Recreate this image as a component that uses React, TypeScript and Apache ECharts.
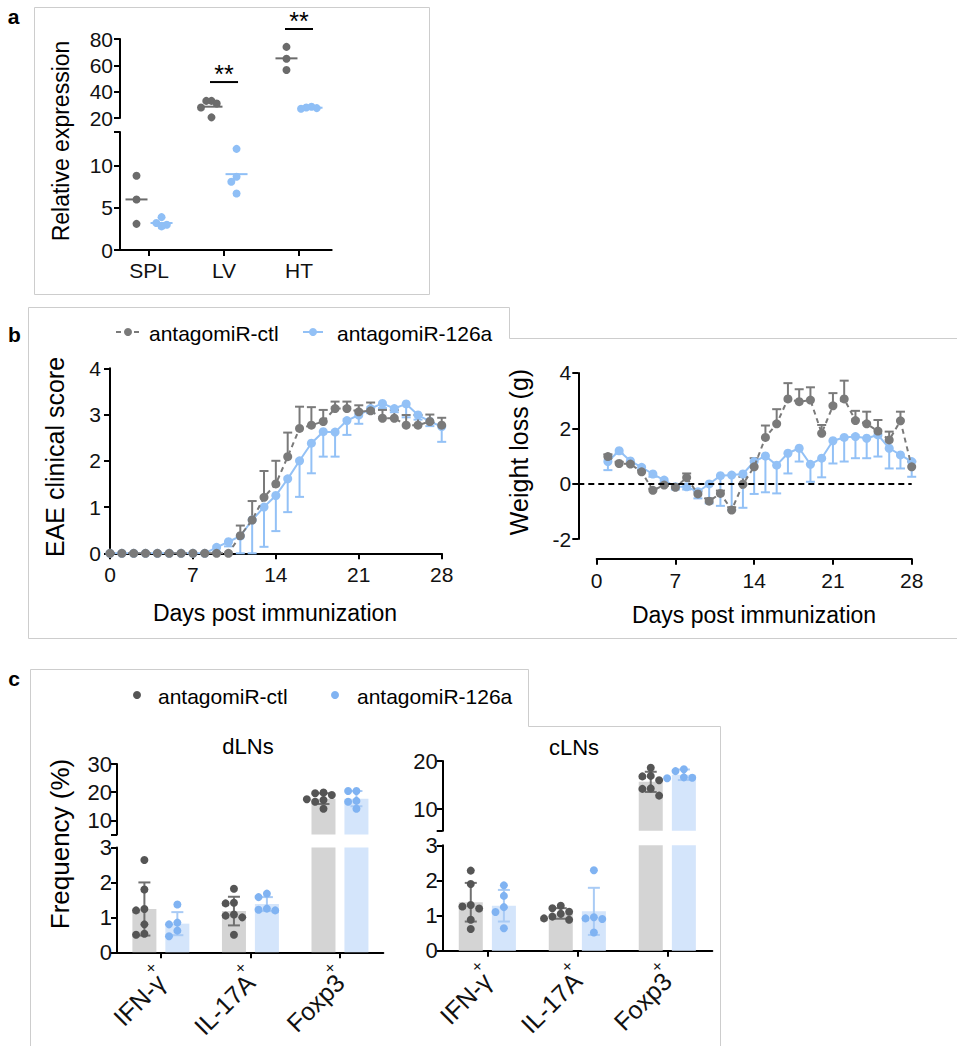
import React, { useEffect, useRef } from 'react';
import * as echarts from 'echarts';

const FONT = 'Arial, "Liberation Sans", Helvetica, sans-serif';

// ---------------- Panel a ----------------
const tissues = ['SPL', 'LV', 'HT'];
const relCtl = [[8.8, 6.0, 3.1], [33, 33, 31, 28, 20.5], [74, 65, 56.5]];
const rel126 = [[3.9, 3.2, 3.0, 2.8], [12.0, 8.7, 8.1, 6.7], [28.5, 28.0, 27.5, 27.0]];
const relCtlMean = [6.0, 28.6, 65.3];
const rel126Mean = [3.2, 9.0, 27.8];
const relSigCat = [1, 2];
const relSigY = [47.3, 87.6];
const relSigText = ['**', '**'];

// ---------------- Panel b ----------------
const eaeDays = [0, 1, 2, 3, 4, 5, 6, 7, 8, 9, 10, 11, 12, 13, 14, 15, 16, 17, 18, 19, 20, 21, 22, 23, 24, 25, 26, 27, 28];
const eaeCtl = [0, 0, 0, 0, 0, 0, 0, 0, 0, 0, 0, 0.38, 0.72, 1.21, 1.5, 2.09, 2.7, 2.77, 2.85, 3.13, 3.13, 3.06, 3.08, 2.92, 2.92, 2.77, 2.77, 2.85, 2.77];
const eaeCtlErr = [0, 0, 0, 0, 0, 0, 0, 0, 0, 0, 0, 0.22, 0.41, 0.57, 0.5, 0.52, 0.47, 0.39, 0.25, 0.15, 0.15, 0.14, 0.18, 0.18, 0.18, 0.22, 0.22, 0.15, 0.16];
const eae126 = [0, 0, 0, 0, 0, 0, 0, 0, 0, 0.13, 0.25, 0.37, 0.72, 1.0, 1.25, 1.61, 2.0, 2.38, 2.63, 2.62, 2.87, 2.99, 3.13, 3.24, 3.13, 3.23, 2.99, 2.85, 2.74];
const eae126Err = [0, 0, 0, 0, 0, 0, 0, 0, 0, 0.1, 0.1, 0.37, 0.72, 0.86, 0.77, 0.72, 0.78, 0.65, 0.54, 0.53, 0.31, 0.19, 0.1, 0.1, 0.08, 0.29, 0.1, 0.1, 0.33];

const wDays = [1, 2, 3, 4, 5, 6, 7, 8, 9, 10, 11, 12, 13, 14, 15, 16, 17, 18, 19, 20, 21, 22, 23, 24, 25, 26, 27, 28];
const wCtl = [0.98, 0.73, 0.71, 0.43, -0.24, -0.05, -0.13, 0.22, -0.37, -0.63, -0.35, -0.95, -0.02, 0.61, 1.67, 2.16, 3.06, 2.96, 3.02, 1.82, 2.81, 3.06, 2.28, 2.16, 1.9, 1.58, 2.27, 0.61];
const wCtlErr = [0.08, 0.06, 0.06, 0.06, 0.06, 0.06, 0.06, 0.15, 0.1, 0.1, 0.1, 0.1, 0.27, 0.31, 0.43, 0.53, 0.57, 0.45, 0.46, 0.3, 0.46, 0.66, 0.35, 0.44, 0.4, 0.3, 0.33, 0.19];
const w126 = [0.8, 1.19, 0.82, 0.59, 0.35, 0.13, -0.11, -0.11, -0.29, -0.01, 0.29, 0.31, 0.35, 0.8, 1.0, 0.67, 1.1, 1.28, 0.7, 0.92, 1.55, 1.67, 1.7, 1.64, 1.76, 1.28, 1.04, 0.8];
const w126Err = [0.31, 0.1, 0.1, 0.1, 0.1, 0.1, 0.1, 0.1, 0.24, 0.7, 1.09, 1.26, 1.22, 1.17, 1.31, 1.02, 0.73, 0.48, 0.63, 0.69, 0.82, 0.87, 0.78, 0.72, 0.78, 0.73, 0.49, 0.55];

// ---------------- Panel c ----------------
const cellTypes = ['IFN-γ', 'IL-17A', 'Foxp3'];
const cellSup = ['+', '+', '+'];
const dlnCtl = [[2.64, 1.8, 1.24, 1.2, 0.8, 0.53, 0.5], [1.82, 1.42, 1.4, 1.08, 1.05, 1.0, 0.5], [19.9, 19.6, 19.0, 17.5, 17.2, 16.6, 14.1]];
const dln126 = [[1.37, 0.85, 0.8, 0.62, 0.46], [1.68, 1.58, 1.25, 1.22, 1.2], [20.4, 20.4, 16.9, 16.6, 14.1]];
const dlnCtlMean = [1.24, 1.18, 17.7];
const dlnCtlSd = [0.76, 0.41, 1.9];
const dln126Mean = [0.82, 1.38, 17.7];
const dln126Sd = [0.33, 0.2, 2.7];

const clnCtl = [[2.28, 1.9, 1.3, 1.26, 1.2, 0.88, 0.62], [1.28, 1.21, 1.11, 1.05, 0.97, 0.92, 0.88], [18.6, 16.9, 16.8, 16.0, 14.3, 14.2, 12.8]];
const cln126 = [[1.86, 1.56, 1.24, 1.1, 0.64], [2.29, 0.95, 0.92, 0.9, 0.52], [18.3, 17.9, 16.6, 16.5, 16.4]];
const clnCtlMean = [1.38, 1.06, 15.66];
const clnCtlSd = [0.55, 0.15, 2.1];
const cln126Mean = [1.28, 1.12, 17.14];
const cln126Sd = [0.45, 0.67, 1.1];

// ---------------- styling ----------------
const A_GRAY = '#6b6b6b';
const A_BLUE = '#8fbff6';
const B_GRAY = '#7a7a7a';
const B_BLUE = '#93c1f6';
const C_GRAY_DOT = '#555555';
const C_BLUE_DOT = '#80b3f2';
const C_GRAY_BAR = '#d4d4d4';
const C_BLUE_BAR = '#d4e5fb';
const C_GRAY_ERR = '#707070';
const C_BLUE_ERR = '#a9cbf5';
const BORDER = '#cdcdcd';

const A_X = [-0.387, 2.436];
const A_OFF = 0.167;
const A_STEP = 0.07;
const D_X = [-0.49, 2.484];
const CL_X = [-0.496, 2.5];
const C_OFF = 0.184;
const C_STEP = 0.093;

const A_UP = [20, 80];
const A_LO = [0, 14];
const D_UP = [5, 30];
const CL_UP = [5.5, 20];
const C_LO = [0, 3];

function swarm(vals: number[], tolOf: (v: number) => number, step: number): number[] {
  const idx = vals.map((_, i) => i).sort((a, b) => vals[b] - vals[a]);
  const offs: number[] = vals.map(() => 0);
  const done: number[] = [];
  const slots = [0, -1, 1, -2, 2, -3, 3];
  idx.forEach((i) => {
    const tol = tolOf(vals[i]);
    for (const s of slots) {
      const hit = done.some((j) => Math.abs(vals[j] - vals[i]) < tol && Math.abs(offs[j] - s * step) < step * 0.5);
      if (!hit) {
        offs[i] = s * step;
        break;
      }
    }
    done.push(i);
  });
  return offs;
}

function groupPoints(groups: number[][], side: number, off: number, step: number, tolOf: (v: number) => number, lo: number, hi: number) {
  const pts: number[][] = [];
  groups.forEach((vals, i) => {
    const o = swarm(vals, tolOf, step);
    vals.forEach((v, k) => {
      if (v >= lo && v <= hi) pts.push([i + side * off + o[k], v]);
    });
  });
  return pts;
}

const axisLine = { show: true, onZero: false, lineStyle: { color: '#000', width: 2 } };
const tick = (extra: any = {}) => ({ show: true, inside: false, length: 6, lineStyle: { color: '#000', width: 2 }, ...extra });
const lab = (extra: any = {}) => ({ color: '#111', fontSize: 21, fontFamily: FONT, margin: 7, ...extra });
const noSplit = { show: false };

const emptyGroup = { type: 'group', children: [] };

const meanRender = (color: string, half: number) => (params: any, api: any) => {
  const p = api.coord([api.value(0), api.value(1)]);
  return { type: 'line', shape: { x1: p[0] - half, y1: p[1], x2: p[0] + half, y2: p[1] }, style: { stroke: color, lineWidth: 2 } };
};

const sigRender = (params: any, api: any) => {
  const a = api.coord([api.value(0), api.value(2)]);
  const b = api.coord([api.value(1), api.value(2)]);
  return {
    type: 'group',
    children: [
      { type: 'line', shape: { x1: a[0], y1: a[1], x2: b[0], y2: b[1] }, style: { stroke: '#000', lineWidth: 2 } },
      {
        type: 'text',
        x: (a[0] + b[0]) / 2,
        y: a[1] - 8,
        style: { text: relSigText[params.dataIndex], fontSize: 25, fontFamily: FONT, fill: '#000', align: 'center', verticalAlign: 'middle' },
      },
    ],
  };
};

const errRender = (color: string, dir: number, cap: number) => (params: any, api: any) => {
  const x = api.value(0);
  const m = api.value(1);
  const e = api.value(2);
  if (!e) return emptyGroup;
  const p0 = api.coord([x, m]);
  const p1 = api.coord([x, m + dir * e]);
  return {
    type: 'group',
    children: [
      { type: 'line', shape: { x1: p0[0], y1: p0[1], x2: p1[0], y2: p1[1] }, style: { stroke: color, lineWidth: 2 } },
      { type: 'line', shape: { x1: p1[0] - cap, y1: p1[1], x2: p1[0] + cap, y2: p1[1] }, style: { stroke: color, lineWidth: 2 } },
    ],
  };
};

const barRender = (lo: number, hi: number, fill: string) => (params: any, api: any) => {
  const x = api.value(0);
  const m = api.value(1);
  if (m <= lo) return emptyGroup;
  const top = Math.min(m, hi);
  const pT = api.coord([x, top]);
  const pB = api.coord([x, lo]);
  return { type: 'rect', shape: { x: pT[0] - 12, y: pT[1], width: 24, height: pB[1] - pT[1] }, style: { fill } };
};

const sdRender = (lo: number, hi: number, color: string) => (params: any, api: any) => {
  const x = api.value(0);
  const m = api.value(1);
  const s = api.value(2);
  const a = Math.max(m - s, lo);
  const b = Math.min(m + s, hi);
  if (b <= a) return emptyGroup;
  const pa = api.coord([x, a]);
  const pb = api.coord([x, b]);
  const children: any[] = [{ type: 'line', shape: { x1: pa[0], y1: pa[1], x2: pb[0], y2: pb[1] }, style: { stroke: color, lineWidth: 2 } }];
  if (m + s <= hi) children.push({ type: 'line', shape: { x1: pb[0] - 6, y1: pb[1], x2: pb[0] + 6, y2: pb[1] }, style: { stroke: color, lineWidth: 2 } });
  if (m - s >= lo) children.push({ type: 'line', shape: { x1: pa[0] - 6, y1: pa[1], x2: pa[0] + 6, y2: pa[1] }, style: { stroke: color, lineWidth: 2 } });
  return { type: 'group', children };
};

function txt(text: string, x: number, y: number, size: number, extra: any = {}) {
  return {
    type: 'text',
    x,
    y,
    rotation: extra.rotation || 0,
    style: {
      text,
      fontSize: size,
      fontFamily: FONT,
      fontWeight: extra.bold ? 'bold' : 'normal',
      fill: '#000',
      align: extra.align || 'center',
      verticalAlign: 'middle',
    },
  };
}

const cellLabel = {
  color: '#111',
  fontFamily: FONT,
  fontSize: 25,
  rotate: 45,
  margin: 26,
  customValues: [0, 1, 2],
  formatter: (v: number) => cellTypes[Math.round(v)] ?? '',
};

const supAxis = (gridIndex: number, range: number[]) => ({
  gridIndex,
  type: 'value',
  position: 'bottom',
  min: range[0],
  max: range[1],
  axisLine: { show: false },
  axisTick: { show: false },
  splitLine: noSplit,
  axisLabel: {
    color: '#111',
    fontFamily: FONT,
    fontSize: 17,
    rotate: 45,
    margin: 6,
    padding: [0, 9, 0, 0],
    customValues: [0, 1, 2],
    formatter: (v: number) => cellSup[Math.round(v)] ?? '',
  },
});

function buildOption(): any {
  const grids = [
    { left: 120, top: 39, width: 211.7, height: 79 },
    { left: 120, top: 132, width: 211.7, height: 118 },
    { left: 110, top: 368.3, width: 331.7, height: 185 },
    { left: 578.3, top: 372.9, width: 333.4, height: 166.2 },
    { left: 596.7, top: 548, width: 315, height: 10.7 },
    { left: 117, top: 764, width: 266.3, height: 70.4 },
    { left: 117, top: 847.5, width: 266.3, height: 104.8 },
    { left: 442.7, top: 761, width: 269.6, height: 69.7 },
    { left: 442.7, top: 845.3, width: 269.6, height: 105.4 },
  ].map((g) => ({ ...g, outerBoundsMode: 'none', containLabel: false }));

  const catFmt = (names: string[]) => (v: number) => names[Math.round(v)] ?? '';

  const xAxis: any[] = [
    { gridIndex: 0, type: 'value', min: A_X[0], max: A_X[1], show: false },
    {
      gridIndex: 1, type: 'value', min: A_X[0], max: A_X[1], axisLine,
      axisTick: tick({ customValues: [0, 1, 2] }),
      axisLabel: lab({ customValues: [0, 1, 2], formatter: catFmt(tissues), margin: 10 }),
      splitLine: noSplit,
    },
    { gridIndex: 2, type: 'value', min: 0, max: 28, interval: 7, axisLine, axisTick: tick(), axisLabel: lab({ margin: 11 }), splitLine: noSplit },
    { gridIndex: 3, type: 'value', min: -1.63, max: 28, show: false },
    { gridIndex: 4, type: 'value', min: 0, max: 28, interval: 7, axisLine, axisTick: tick(), axisLabel: lab({ margin: 11 }), splitLine: noSplit },
    { gridIndex: 5, type: 'value', min: D_X[0], max: D_X[1], show: false },
    {
      gridIndex: 6, type: 'value', position: 'bottom', min: D_X[0], max: D_X[1], axisLine,
      axisTick: tick({ customValues: [0, 1, 2] }),
      axisLabel: cellLabel,
      splitLine: noSplit,
    },
    { gridIndex: 7, type: 'value', min: CL_X[0], max: CL_X[1], show: false },
    {
      gridIndex: 8, type: 'value', position: 'bottom', min: CL_X[0], max: CL_X[1], axisLine,
      axisTick: tick({ customValues: [0, 1, 2] }),
      axisLabel: cellLabel,
      splitLine: noSplit,
    },
    supAxis(6, D_X),
    supAxis(8, CL_X),
  ];

  const yAxis: any[] = [
    { gridIndex: 0, type: 'value', min: A_UP[0], max: A_UP[1], interval: 20, axisLine, axisTick: tick(), axisLabel: lab(), splitLine: noSplit },
    {
      gridIndex: 1, type: 'value', min: A_LO[0], max: A_LO[1], axisLine,
      axisTick: tick({ customValues: [0, 5, 10, 14] }), axisLabel: lab({ customValues: [0, 5, 10] }), splitLine: noSplit,
    },
    { gridIndex: 2, type: 'value', min: 0, max: 4, interval: 1, axisLine, axisTick: tick(), axisLabel: lab({ margin: 9 }), splitLine: noSplit },
    { gridIndex: 3, type: 'value', min: -2, max: 4, interval: 2, axisLine, axisTick: tick(), axisLabel: lab(), splitLine: noSplit },
    { gridIndex: 4, type: 'value', min: 0, max: 1, show: false },
    {
      gridIndex: 5, type: 'value', min: D_UP[0], max: D_UP[1], axisLine,
      axisTick: tick({ customValues: [5, 10, 20, 30] }), axisLabel: lab({ customValues: [10, 20, 30], fontSize: 22, margin: 5 }), splitLine: noSplit,
    },
    { gridIndex: 6, type: 'value', min: C_LO[0], max: C_LO[1], interval: 1, axisLine, axisTick: tick(), axisLabel: lab({ fontSize: 22, margin: 5 }), splitLine: noSplit },
    {
      gridIndex: 7, type: 'value', min: CL_UP[0], max: CL_UP[1], axisLine,
      axisTick: tick({ customValues: [5.5, 10, 20] }), axisLabel: lab({ customValues: [10, 20], fontSize: 22, margin: 5 }), splitLine: noSplit,
    },
    { gridIndex: 8, type: 'value', min: C_LO[0], max: C_LO[1], interval: 1, axisLine, axisTick: tick(), axisLabel: lab({ fontSize: 22, margin: 5 }), splitLine: noSplit },
  ];

  const series: any[] = [];

  // ---- panel a ----
  const aTol = (v: number) => (v >= 20 ? 6 : 0.95);
  const aSegs = [
    { g: 0, lo: A_UP[0], hi: A_UP[1] },
    { g: 1, lo: A_LO[0], hi: A_LO[1] },
  ];
  aSegs.forEach((s) => {
    series.push({
      type: 'custom', xAxisIndex: s.g, yAxisIndex: s.g, z: 3,
      renderItem: meanRender(A_GRAY, 11),
      data: relCtlMean.map((m, i) => [i - A_OFF, m]).filter((d) => d[1] >= s.lo && d[1] <= s.hi),
    });
    series.push({
      type: 'custom', xAxisIndex: s.g, yAxisIndex: s.g, z: 3,
      renderItem: meanRender(A_BLUE, 11),
      data: rel126Mean.map((m, i) => [i + A_OFF, m]).filter((d) => d[1] >= s.lo && d[1] <= s.hi),
    });
    series.push({
      type: 'scatter', name: 'antagomiR-ctl', xAxisIndex: s.g, yAxisIndex: s.g, symbolSize: 8, z: 4,
      itemStyle: { color: A_GRAY, opacity: 1 },
      data: groupPoints(relCtl, -1, A_OFF, A_STEP, aTol, s.lo, s.hi),
    });
    series.push({
      type: 'scatter', name: 'antagomiR-126a', xAxisIndex: s.g, yAxisIndex: s.g, symbolSize: 8, z: 4,
      itemStyle: { color: A_BLUE, opacity: 1 },
      data: groupPoints(rel126, 1, A_OFF, A_STEP, aTol, s.lo, s.hi),
    });
  });
  series.push({
    type: 'custom', xAxisIndex: 0, yAxisIndex: 0, z: 5, clip: false,
    renderItem: sigRender,
    data: relSigCat.map((c, i) => [c - A_OFF - 0.02, c + A_OFF + 0.02, relSigY[i]]),
  });

  // ---- panel b: EAE ----
  series.push({
    type: 'custom', xAxisIndex: 2, yAxisIndex: 2, z: 2,
    renderItem: errRender(B_BLUE, -1, 4.5),
    data: eaeDays.map((d, i) => [d, eae126[i], eae126Err[i]]),
  });
  series.push({
    type: 'custom', xAxisIndex: 2, yAxisIndex: 2, z: 2,
    renderItem: errRender(B_GRAY, 1, 4.5),
    data: eaeDays.map((d, i) => [d, eaeCtl[i], eaeCtlErr[i]]),
  });
  series.push({
    type: 'line', name: 'antagomiR-126a', xAxisIndex: 2, yAxisIndex: 2, z: 3,
    symbol: 'circle', symbolSize: 9, showAllSymbol: true,
    itemStyle: { color: B_BLUE }, lineStyle: { color: B_BLUE, width: 2 },
    data: eaeDays.map((d, i) => [d, eae126[i]]),
  });
  series.push({
    type: 'line', name: 'antagomiR-ctl', xAxisIndex: 2, yAxisIndex: 2, z: 4,
    symbol: 'circle', symbolSize: 9, showAllSymbol: true,
    itemStyle: { color: B_GRAY }, lineStyle: { color: B_GRAY, width: 2, type: [5, 4] },
    data: eaeDays.map((d, i) => [d, eaeCtl[i]]),
  });

  // ---- panel b: weight ----
  series.push({
    type: 'custom', xAxisIndex: 3, yAxisIndex: 3, z: 2,
    renderItem: errRender(B_BLUE, -1, 4.5),
    data: wDays.map((d, i) => [d, w126[i], w126Err[i]]),
  });
  series.push({
    type: 'custom', xAxisIndex: 3, yAxisIndex: 3, z: 2,
    renderItem: errRender(B_GRAY, 1, 4.5),
    data: wDays.map((d, i) => [d, wCtl[i], wCtlErr[i]]),
  });
  series.push({
    type: 'line', name: 'antagomiR-126a', xAxisIndex: 3, yAxisIndex: 3, z: 3,
    symbol: 'circle', symbolSize: 9, showAllSymbol: true,
    itemStyle: { color: B_BLUE }, lineStyle: { color: B_BLUE, width: 2 },
    data: wDays.map((d, i) => [d, w126[i]]),
    markLine: {
      silent: true, symbol: ['none', 'none'], label: { show: false },
      lineStyle: { color: '#000', width: 2, type: [6, 4] },
      data: [{ yAxis: 0 }],
    },
  });
  series.push({
    type: 'line', name: 'antagomiR-ctl', xAxisIndex: 3, yAxisIndex: 3, z: 4,
    symbol: 'circle', symbolSize: 9, showAllSymbol: true,
    itemStyle: { color: B_GRAY }, lineStyle: { color: B_GRAY, width: 2, type: [5, 4] },
    data: wDays.map((d, i) => [d, wCtl[i]]),
  });

  // ---- panel c ----
  const cPanels = [
    { up: 5, lo: 6, upR: D_UP, ctl: dlnCtl, b: dln126, cm: dlnCtlMean, cs: dlnCtlSd, bm: dln126Mean, bs: dln126Sd, upTol: 2.6 },
    { up: 7, lo: 8, upR: CL_UP, ctl: clnCtl, b: cln126, cm: clnCtlMean, cs: clnCtlSd, bm: cln126Mean, bs: cln126Sd, upTol: 1.6 },
  ];
  cPanels.forEach((p) => {
    const tolOf = (v: number) => (v > 3 ? p.upTol : 0.2);
    const segs = [
      { g: p.up, lo: p.upR[0], hi: p.upR[1] },
      { g: p.lo, lo: C_LO[0], hi: C_LO[1] },
    ];
    segs.forEach((s) => {
      series.push({
        type: 'custom', xAxisIndex: s.g, yAxisIndex: s.g, z: 1,
        renderItem: barRender(s.lo, s.hi, C_GRAY_BAR),
        data: p.cm.map((m, i) => [i - C_OFF, m]),
      });
      series.push({
        type: 'custom', xAxisIndex: s.g, yAxisIndex: s.g, z: 1,
        renderItem: barRender(s.lo, s.hi, C_BLUE_BAR),
        data: p.bm.map((m, i) => [i + C_OFF, m]),
      });
      series.push({
        type: 'custom', xAxisIndex: s.g, yAxisIndex: s.g, z: 2,
        renderItem: sdRender(s.lo, s.hi, C_GRAY_ERR),
        data: p.cm.map((m, i) => [i - C_OFF, m, p.cs[i]]),
      });
      series.push({
        type: 'custom', xAxisIndex: s.g, yAxisIndex: s.g, z: 2,
        renderItem: sdRender(s.lo, s.hi, C_BLUE_ERR),
        data: p.bm.map((m, i) => [i + C_OFF, m, p.bs[i]]),
      });
      series.push({
        type: 'scatter', name: 'antagomiR-ctl', xAxisIndex: s.g, yAxisIndex: s.g, symbolSize: 8, z: 3,
        itemStyle: { color: C_GRAY_DOT, opacity: 1 },
        data: groupPoints(p.ctl, -1, C_OFF, C_STEP, tolOf, s.lo, s.hi),
      });
      series.push({
        type: 'scatter', name: 'antagomiR-126a', xAxisIndex: s.g, yAxisIndex: s.g, symbolSize: 8, z: 3,
        itemStyle: { color: C_BLUE_DOT, opacity: 1 },
        data: groupPoints(p.b, 1, C_OFF, C_STEP, tolOf, s.lo, s.hi),
      });
    });
  });

  const graphic: any[] = [
    // panel borders
    { type: 'rect', shape: { x: 34.5, y: 7.5, width: 395, height: 287 }, style: { stroke: BORDER, lineWidth: 1, fill: 'none' }, silent: true },
    { type: 'polyline', shape: { points: [[28.5, 638.5], [28.5, 307.5], [509.5, 307.5], [509.5, 338.5], [957, 338.5]] }, style: { stroke: BORDER, lineWidth: 1, fill: 'none' }, silent: true },
    { type: 'line', shape: { x1: 28.5, y1: 638.5, x2: 957, y2: 638.5 }, style: { stroke: BORDER, lineWidth: 1 }, silent: true },
    { type: 'polyline', shape: { points: [[30.5, 1046], [30.5, 669.5], [528.5, 669.5], [528.5, 726.5], [720.5, 726.5], [720.5, 1046]] }, style: { stroke: BORDER, lineWidth: 1, fill: 'none' }, silent: true },

    // panel letters
    txt('a', 13.5, 16, 21, { bold: true }),
    txt('b', 14.5, 334, 21, { bold: true }),
    txt('c', 14, 678, 21, { bold: true }),

    // axis titles
    txt('Relative expression', 61, 141, 23, { rotation: Math.PI / 2 }),
    txt('EAE clinical score', 55, 457, 25, { rotation: Math.PI / 2 }),
    txt('Days post immunization', 275, 613, 23),
    txt('Weight loss (g)', 519, 452, 25, { rotation: Math.PI / 2 }),
    txt('Days post immunization', 754, 615, 23),
    txt('Frequency (%)', 60, 844, 26, { rotation: Math.PI / 2 }),
    txt('dLNs', 248, 746, 22),
    txt('cLNs', 574, 747, 22),

    // legend b
    { type: 'line', shape: { x1: 116, y1: 332, x2: 139, y2: 332 }, style: { stroke: B_GRAY, lineWidth: 2, lineDash: [5, 4] } },
    { type: 'circle', shape: { cx: 128, cy: 332, r: 4 }, style: { fill: B_GRAY } },
    txt('antagomiR-ctl', 149, 333, 21, { align: 'left' }),
    { type: 'line', shape: { x1: 303, y1: 332, x2: 323, y2: 332 }, style: { stroke: B_BLUE, lineWidth: 2 } },
    { type: 'circle', shape: { cx: 313, cy: 332, r: 4 }, style: { fill: B_BLUE } },
    txt('antagomiR-126a', 337, 333, 21, { align: 'left' }),

    // legend c
    { type: 'circle', shape: { cx: 137, cy: 695, r: 4 }, style: { fill: C_GRAY_DOT } },
    txt('antagomiR-ctl', 158, 696, 21, { align: 'left' }),
    { type: 'circle', shape: { cx: 335, cy: 695, r: 4 }, style: { fill: C_BLUE_DOT } },
    txt('antagomiR-126a', 357, 696, 21, { align: 'left' }),
  ];

  return {
    animation: false,
    backgroundColor: '#ffffff',
    textStyle: { fontFamily: FONT },
    grid: grids,
    xAxis,
    yAxis,
    series,
    graphic,
  };
}

export default function App() {
  const ref = useRef<HTMLDivElement>(null);
  useEffect(() => {
    document.body.style.margin = '0';
    const chart = echarts.init(ref.current as HTMLDivElement, null, { renderer: 'svg' });
    chart.setOption(buildOption());
    return () => chart.dispose();
  }, []);
  return <div ref={ref} style={{ width: 957, height: 1046 }} />;
}
